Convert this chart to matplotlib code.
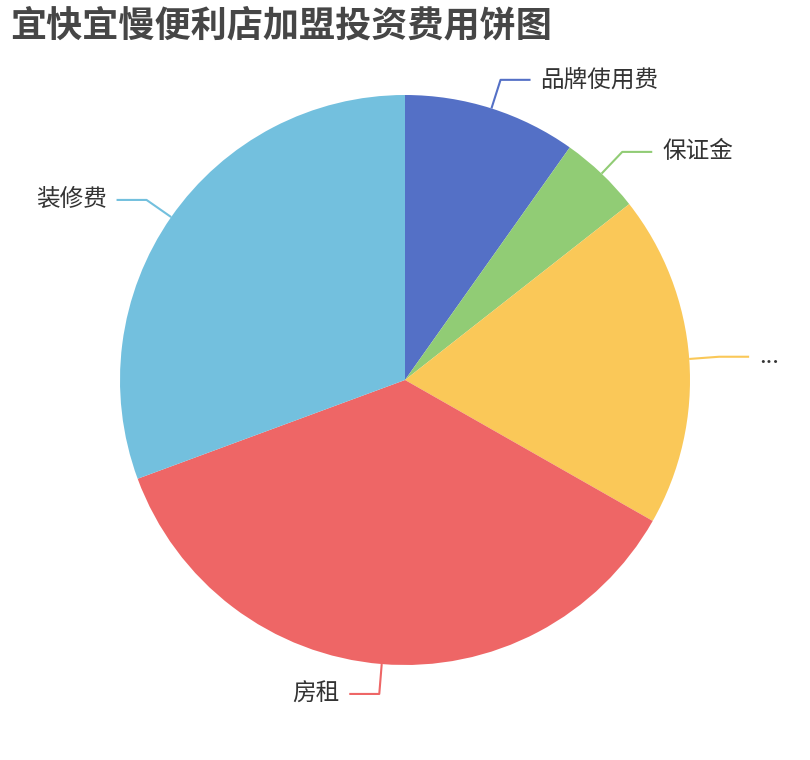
import numpy as np
import matplotlib
matplotlib.use('Agg')
import matplotlib.pyplot as plt

plt.rcParams['font.family'] = ['Noto Sans CJK SC', 'DejaVu Sans']

names = ['品牌使用费', '保证金', '...', '房租', '装修费']
values = [9.8, 4.6, 18.8, 36.1, 30.6]
colors = ['#5470c6', '#91cc75', '#fac858', '#ee6666', '#73c0de']

fig = plt.figure(figsize=(8.1, 7.6), dpi=100)
ax = fig.add_axes([0, 0, 1, 1])

cx, cy, r = 405, 380, 285
wedges, _ = ax.pie(values, colors=colors, startangle=90, counterclock=False,
                   center=(cx, cy), radius=r,
                   wedgeprops=dict(linewidth=0))
ax.set_xlim(0, 810)
ax.set_ylim(0, 760)
ax.set_aspect('equal')
ax.axis('off')

len1, len2, gap = 30, 30, 10
for w, name, c in zip(wedges, names, colors):
    mid = np.deg2rad((w.theta1 + w.theta2) / 2)
    x0, y0 = cx + r * np.cos(mid), cy + r * np.sin(mid)
    x1, y1 = cx + (r + len1) * np.cos(mid), cy + (r + len1) * np.sin(mid)
    side = 1 if np.cos(mid) >= 0 else -1
    x2 = x1 + side * len2
    ax.plot([x0, x1, x2], [y0, y1, y1], color=c, lw=1.5, solid_capstyle='butt')
    ax.text(x2 + side * gap, y1, name, ha='left' if side > 0 else 'right',
            va='center', fontsize=17, color='#333333')

fig.text(10 / 810, 1 - 26 / 760, '宜快宜慢便利店加盟投资费用饼图', fontsize=26,
         fontweight='bold', color='#464646', ha='left', va='center')

fig.savefig('out.png', dpi=100, facecolor='white')
